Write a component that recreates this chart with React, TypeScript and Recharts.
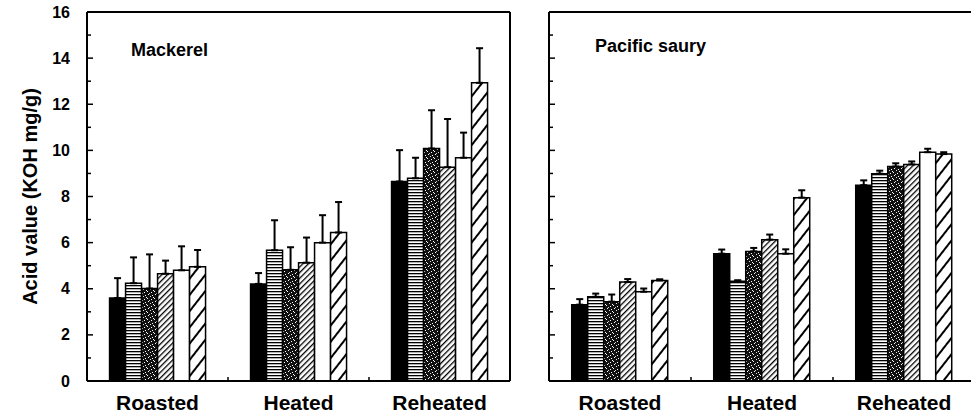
import React from 'react';
import { Bar, BarChart, ErrorBar, XAxis, YAxis } from 'recharts';

const categories = ['Roasted', 'Heated', 'Reheated'];
const yTicks = [0, 1, 2, 3, 4, 5, 6, 7, 8, 9, 10, 11, 12, 13, 14, 15, 16];

// one row per treatment (bar pattern), values for Roasted / Heated / Reheated
const mackerelMeans = [
  [3.6, 4.21, 8.65],
  [4.24, 5.67, 8.79],
  [4.01, 4.82, 10.08],
  [4.65, 5.13, 9.27],
  [4.8, 6.0, 9.68],
  [4.95, 6.44, 12.93],
];
const mackerelSd = [
  [0.86, 0.47, 1.36],
  [1.12, 1.3, 0.89],
  [1.48, 0.98, 1.66],
  [0.57, 1.09, 2.09],
  [1.04, 1.19, 1.09],
  [0.73, 1.32, 1.5],
];

const sauryMeans = [
  [3.31, 5.52, 8.49],
  [3.65, 4.32, 8.99],
  [3.44, 5.62, 9.3],
  [4.29, 6.13, 9.39],
  [3.87, 5.52, 9.92],
  [4.36, 7.95, 9.84],
];
const saurySd = [
  [0.24, 0.18, 0.21],
  [0.14, 0.05, 0.13],
  [0.31, 0.15, 0.14],
  [0.13, 0.22, 0.13],
  [0.14, 0.19, 0.15],
  [0.05, 0.32, 0.08],
];

const fills = ['#000', 'url(#pHoriz)', 'url(#pDots)', 'url(#pDiagFine)', '#fff', 'url(#pDiagWide)'];
const font = '"Liberation Sans", Arial, sans-serif';

function buildRows(means: number[][], sd: number[][]) {
  return categories.map((name, i) => {
    const row: any = { name };
    means.forEach((s, k) => {
      row[`m${k}`] = s[i];
      row[`e${k}`] = [0, sd[k][i]];
    });
    return row;
  });
}

const YTick = (props: any) => {
  const { x, y, payload, showLabel } = props;
  const major = payload.value % 2 === 0;
  return (
    <g>
      <line x1={x} x2={x + (major ? 6 : 4)} y1={y} y2={y} stroke="#000" strokeWidth={1.5} />
      {showLabel && major && (
        <text x={x - 17} y={y} dy={5.5} textAnchor="end" fontSize={16} fontWeight="bold" fontFamily={font} fill="#000">
          {payload.value}
        </text>
      )}
    </g>
  );
};

// category label plus a short upward mark on the boundary to the next group
const CatTick = (props: any) => {
  const { x, y, payload, index, margin } = props;
  const half = payload && typeof payload.offset === 'number' ? payload.offset : 0;
  const axisY = y - margin;
  return (
    <g>
      <text x={x} y={axisY + 29} textAnchor="middle" fontSize={21} fontWeight="bold" fontFamily={font} fill="#000">
        {payload.value}
      </text>
      {half > 0 && index < categories.length - 1 && (
        <line x1={x + half} x2={x + half} y1={axisY} y2={axisY - 4} stroke="#000" strokeWidth={1.5} />
      )}
    </g>
  );
};

function Panel({ rows, width, yWidth, showLabels, showRight }: any) {
  return (
    <BarChart
      width={width}
      height={415}
      data={rows}
      margin={{ top: 11, right: showRight ? 9 : 0, bottom: 0, left: 0 }}
      barCategoryGap="16%"
      barGap={0}
    >
      <XAxis
        xAxisId="cat"
        dataKey="name"
        height={34}
        interval={0}
        axisLine={{ stroke: '#000', strokeWidth: 2 }}
        tickLine={false}
        tickSize={0}
        tickMargin={10}
        tick={<CatTick margin={10} />}
      />
      <XAxis xAxisId="top" orientation="top" dataKey="name" height={1} tick={false} tickLine={false} axisLine={{ stroke: '#000', strokeWidth: 2 }} />
      <YAxis
        yAxisId="left"
        width={yWidth}
        domain={[0, 16]}
        ticks={yTicks}
        interval={0}
        tickLine={false}
        tickSize={0}
        tickMargin={0}
        axisLine={{ stroke: '#000', strokeWidth: 2 }}
        tick={<YTick showLabel={showLabels} />}
        label={
          showLabels
            ? { value: 'Acid value (KOH mg/g)', angle: -90, position: 'center', dx: -14, style: { fontSize: 20, fontWeight: 'bold', fontFamily: font, fill: '#000' } }
            : undefined
        }
      />
      {showRight && (
        <YAxis yAxisId="right" orientation="right" width={1} domain={[0, 16]} tick={false} tickLine={false} axisLine={{ stroke: '#000', strokeWidth: 2 }} />
      )}
      {fills.map((f, k) => (
        <Bar key={k} xAxisId="cat" yAxisId="left" dataKey={`m${k}`} fill={f} stroke="#000" strokeWidth={1.5} isAnimationActive={false}>
          <ErrorBar dataKey={`e${k}`} width={3.5} stroke="#000" strokeWidth={2} direction="y" />
        </Bar>
      ))}
    </BarChart>
  );
}

export default function App() {
  const mackerelRows = buildRows(mackerelMeans, mackerelSd);
  const sauryRows = buildRows(sauryMeans, saurySd);
  const titleStyle: React.CSSProperties = {
    position: 'absolute',
    fontFamily: font,
    fontWeight: 'bold',
    fontSize: 18,
    lineHeight: '18px',
    color: '#000',
    whiteSpace: 'nowrap',
  };
  return (
    <div style={{ position: 'absolute', left: 0, top: 0, width: 971, height: 415, overflow: 'hidden', background: '#fff' }}>
      <svg width={0} height={0} style={{ position: 'absolute' }}>
        <defs>
          <pattern id="pHoriz" width="4" height="3" patternUnits="userSpaceOnUse">
            <rect width="4" height="3" fill="#fff" />
            <rect width="4" height="1.3" fill="#000" />
          </pattern>
          <pattern id="pDots" width="7" height="7" patternUnits="userSpaceOnUse">
            <rect width="7" height="7" fill="#111" />
            <rect x="1" y="0" width="1" height="1" fill="#fff" />
            <rect x="5" y="1" width="1" height="1" fill="#fff" />
            <rect x="3" y="2" width="1" height="1" fill="#ddd" />
            <rect x="6" y="3" width="1" height="1" fill="#fff" />
            <rect x="0" y="4" width="1" height="1" fill="#fff" />
            <rect x="4" y="5" width="1" height="1" fill="#fff" />
            <rect x="2" y="6" width="1" height="1" fill="#ccc" />
          </pattern>
          <pattern id="pDiagFine" width="4" height="4" patternUnits="userSpaceOnUse" patternTransform="rotate(45)">
            <rect width="4" height="4" fill="#fff" />
            <rect width="1.3" height="4" fill="#000" />
          </pattern>
          <pattern id="pDiagWide" width="10" height="10" patternUnits="userSpaceOnUse" patternTransform="rotate(38)">
            <rect width="10" height="10" fill="#fff" />
            <rect width="2" height="10" fill="#000" />
          </pattern>
        </defs>
      </svg>
      <div style={{ position: 'absolute', left: 0, top: 0 }}>
        <Panel rows={mackerelRows} width={520} yWidth={87} showLabels showRight />
      </div>
      <div style={{ position: 'absolute', left: 529, top: 0 }}>
        <Panel rows={sauryRows} width={446} yWidth={20} showLabels={false} showRight={false} />
      </div>
      <div style={{ ...titleStyle, left: 131, top: 41 }}>Mackerel</div>
      <div style={{ ...titleStyle, left: 595, top: 37 }}>Pacific saury</div>
    </div>
  );
}
